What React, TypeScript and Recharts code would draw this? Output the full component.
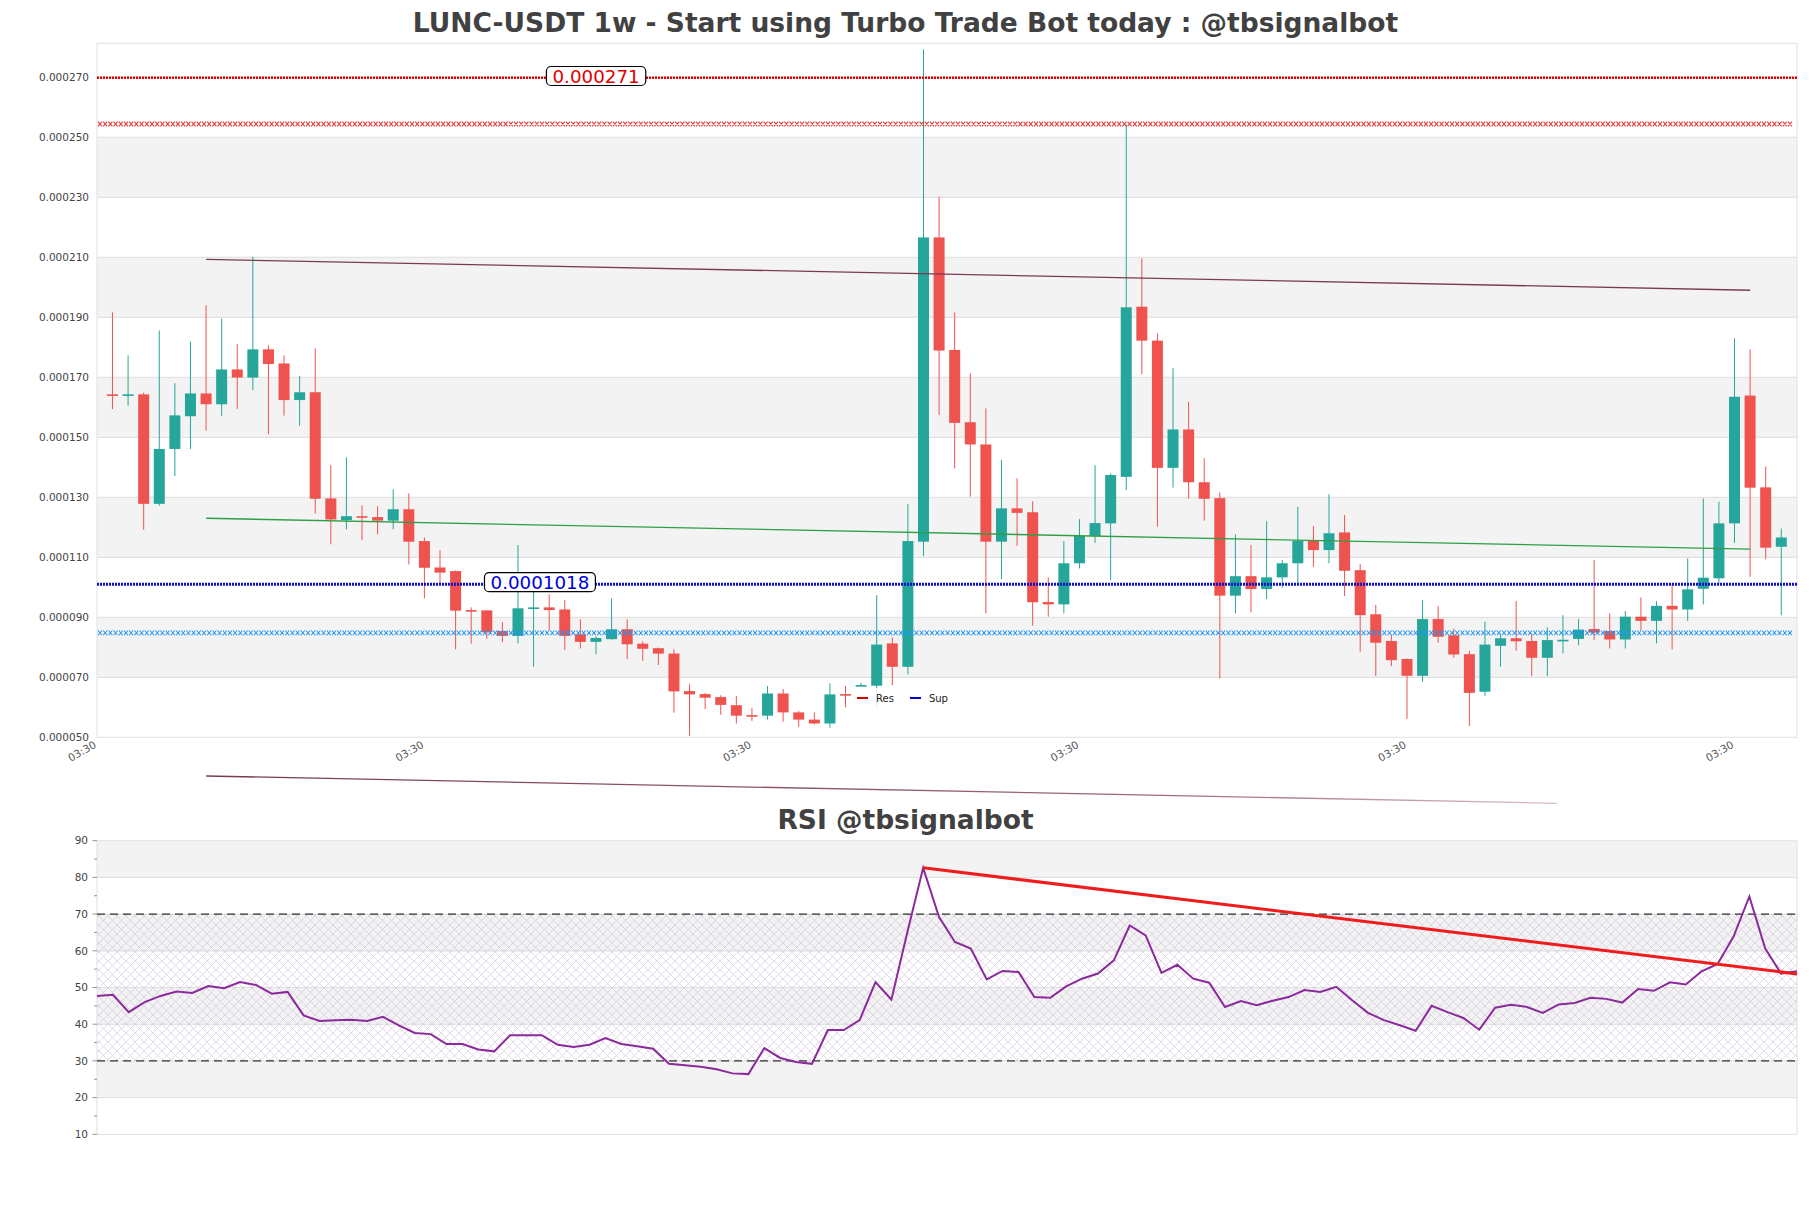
import {
  Bar,
  ComposedChart,
  Legend,
  Line,
  ReferenceArea,
  ReferenceDot,
  ReferenceLine,
  XAxis,
  YAxis,
} from 'recharts'

const FONT = '"DejaVu Sans", sans-serif'
const UP = '#26a69a'
const DOWN = '#ef5350'
const BAND = '#f3f3f3'
const GRID = '#e0e0e0'

// weekly candles, prices in 1e-6 USDT (164.3 -> 0.0001643)
const OPEN = [
  164.3, 164.0, 164.3, 127.8, 146.1, 157.0, 164.6, 161.0, 172.6, 169.9,
  179.3, 174.6, 162.4, 165.0, 129.6, 122.4, 123.7, 123.4, 122.2, 126.0,
  115.4, 106.6, 105.4, 92.4, 92.3, 85.4, 83.8, 93.0, 93.3, 92.6,
  84.3, 81.8, 82.7, 86.0, 81.2, 79.7, 77.9, 65.4, 64.4, 63.4,
  60.7, 57.4, 57.2, 64.6, 58.3, 55.9, 54.6, 64.4, 67.1, 67.2,
  81.3, 73.5, 115.2, 216.6, 179.1, 155.0, 147.6, 115.2, 126.3, 125.0,
  95.1, 94.3, 108.0, 117.1, 121.3, 136.8, 193.5, 182.2, 139.8, 152.6,
  135.0, 129.7, 97.2, 103.7, 99.4, 103.3, 108.0, 115.5, 112.4, 118.3,
  105.7, 91.0, 82.1, 76.1, 70.5, 89.4, 84.0, 77.7, 65.2, 80.5,
  83.0, 82.1, 76.5, 82.2, 82.8, 86.1, 85.4, 82.6, 90.2, 88.8,
  93.8, 92.6, 99.5, 103.0, 121.3, 163.9, 133.3, 113.5,
]
const HIGH = [
  191.6, 177.3, 164.9, 185.6, 168.0, 181.9, 194.0, 189.6, 181.0, 210.2,
  180.7, 177.3, 170.4, 179.6, 140.7, 143.3, 127.3, 127.0, 132.6, 131.3,
  116.6, 112.3, 105.6, 93.3, 92.3, 88.4, 114.1, 98.5, 97.7, 95.7,
  89.4, 83.7, 96.3, 89.3, 82.0, 79.9, 79.3, 67.7, 64.8, 64.0,
  63.7, 59.7, 67.1, 66.1, 58.8, 58.3, 68.0, 67.1, 68.2, 97.4,
  83.3, 127.7, 279.3, 230.2, 191.6, 171.3, 159.6, 142.4, 136.3, 128.7,
  103.3, 115.4, 122.7, 140.7, 138.0, 254.3, 209.6, 184.6, 173.0, 161.8,
  143.0, 131.6, 117.6, 114.1, 122.0, 109.1, 126.8, 120.4, 131.0, 124.1,
  107.7, 94.1, 84.1, 76.3, 95.7, 93.7, 86.2, 78.8, 88.5, 84.6,
  95.4, 84.6, 86.6, 90.7, 89.4, 109.1, 91.3, 92.1, 96.6, 95.4,
  101.0, 109.6, 129.6, 128.5, 183.0, 179.3, 140.2, 119.6,
]
const LOW = [
  159.4, 160.5, 119.2, 127.2, 137.1, 146.1, 152.2, 157.0, 159.4, 165.7,
  151.0, 157.2, 153.8, 124.6, 114.3, 119.3, 115.7, 117.6, 119.3, 107.6,
  96.3, 101.3, 79.3, 81.2, 82.8, 81.7, 81.3, 73.5, 85.7, 79.1,
  79.6, 77.7, 82.5, 76.1, 75.5, 74.1, 58.2, 50.5, 59.4, 57.5,
  54.6, 55.5, 55.9, 55.2, 53.5, 54.3, 53.2, 60.0, 66.9, 59.8,
  67.4, 71.0, 110.4, 157.4, 139.6, 130.2, 91.3, 102.7, 113.8, 87.2,
  90.2, 91.3, 106.3, 114.8, 102.4, 132.4, 171.0, 120.2, 133.2, 129.5,
  122.2, 69.6, 91.3, 91.6, 96.1, 99.8, 101.3, 106.8, 108.0, 97.1,
  78.5, 70.4, 73.7, 56.1, 68.5, 81.5, 76.5, 53.8, 63.8, 73.5,
  78.8, 70.4, 70.4, 78.0, 80.7, 82.4, 79.6, 79.6, 85.7, 81.3,
  79.3, 88.8, 94.3, 101.3, 114.8, 103.5, 109.3, 90.7,
]
const CLOSE = [
  164.0, 164.3, 127.8, 146.1, 157.3, 164.6, 161.0, 172.6, 169.9, 179.3,
  174.4, 162.4, 165.0, 129.5, 122.6, 123.7, 123.2, 122.2, 126.0, 115.2,
  106.5, 104.9, 92.2, 92.2, 85.0, 83.8, 93.0, 93.3, 92.4, 83.8,
  81.8, 83.1, 86.0, 81.0, 79.5, 77.9, 65.3, 64.3, 63.2, 60.8,
  57.2, 57.2, 64.6, 58.3, 55.9, 54.6, 64.3, 64.2, 67.4, 80.9,
  73.5, 115.4, 216.6, 178.9, 154.8, 147.6, 115.2, 126.3, 124.8, 95.0,
  94.3, 108.0, 117.1, 121.4, 137.4, 193.3, 182.2, 139.8, 152.6, 135.0,
  129.5, 97.2, 103.7, 99.4, 103.3, 108.0, 115.5, 112.4, 118.0, 105.5,
  90.7, 81.5, 75.7, 70.5, 89.4, 83.5, 77.6, 64.8, 80.9, 83.0,
  82.0, 76.5, 82.4, 82.5, 85.9, 84.9, 82.6, 90.2, 88.8, 93.8,
  92.6, 99.3, 103.2, 121.3, 163.5, 133.2, 113.2, 116.6,
]

const RSI = [
  47.7, 48.0, 43.3, 46.0, 47.7, 48.9, 48.5, 50.4, 49.8, 51.5,
  50.7, 48.3, 48.8, 42.4, 40.9, 41.1, 41.2, 40.9, 42.0, 39.7,
  37.6, 37.3, 34.6, 34.6, 33.1, 32.6, 37.0, 37.0, 37.0, 34.4,
  33.8, 34.4, 36.2, 34.6, 34.0, 33.3, 29.2, 28.8, 28.4, 27.7,
  26.6, 26.4, 33.5, 30.8, 29.7, 29.2, 38.4, 38.4, 41.1, 51.5,
  46.7, 65.0, 82.6, 69.2, 62.4, 60.6, 52.2, 54.5, 54.2, 47.4,
  47.2, 50.3, 52.4, 53.8, 57.4, 66.9, 64.2, 54.0, 56.2, 52.4,
  51.3, 44.7, 46.3, 45.2, 46.4, 47.4, 49.3, 48.8, 50.2, 46.5,
  43.1, 41.1, 39.7, 38.2, 45.0, 43.3, 41.7, 38.5, 44.5, 45.3,
  44.7, 43.1, 45.4, 45.8, 47.2, 46.9, 45.9, 49.6, 49.1, 51.4,
  50.8, 54.4, 56.4, 63.8, 74.8, 60.6, 53.8, 54.4,
]

const X_EDGES = [-1, 108] // visible x range of the price panel
const X_TICKS = [-1, 20, 41, 62, 83, 104]
const X_TICK_LABELS = ['03:30', '03:30', '03:30', '03:30', '03:30', '03:30']
const Y_DOMAIN = [50, 281.3]
const Y_TICKS = [50, 70, 90, 110, 130, 150, 170, 190, 210, 230, 250, 270]
const Y_SHADED = [70, 110, 150, 190, 230] // lower edge of the grey stripes

const RSI_DOMAIN = [10, 90]
const RSI_TICKS = [10, 15, 20, 25, 30, 35, 40, 45, 50, 55, 60, 65, 70, 75, 80, 85, 90]
const RSI_EDGES = [10, 20, 30, 40, 50, 60, 70, 80, 90]
const RSI_SHADED = [20, 40, 60, 80]
const RSI_LEVELS = [70, 30]
const RSI_TREND = [
  { x: 52, y: 82.6 },
  { x: 107, y: 53.7 },
]

// support / resistance levels
const RES_LINE = 269.8
const RES_ZONE = 254.4
const SUP_LINE = 101.0
const SUP_ZONE = 84.8
const TAGS = [
  { text: '0.000271', value: 270.4, at: 31, color: '#e00000' },
  { text: '0.0001018', value: 101.7, at: 27.4, color: '#0000dd' },
]
const TRENDS = [
  { from: { x: 6, y: 209.3 }, to: { x: 105, y: 199.0 }, color: '#7a3a50' },
  { from: { x: 6, y: 123.0 }, to: { x: 105, y: 112.7 }, color: '#2f9e44' },
]
const LOWER_CHANNEL = [
  { x: 6, y: 37.1 },
  { x: 92.6, y: 28.0 },
]
const LEGEND_ITEMS = [
  { name: 'Res', color: '#d00000' },
  { name: 'Sup', color: '#0000cc' },
]

const candles = OPEN.map((o, i) => ({ i, o, h: HIGH[i], l: LOW[i], c: CLOSE[i] }))
const rsiRows = RSI.map((rsi, i) => ({ i, rsi }))

const bandEdges = [Y_DOMAIN[0], ...Y_TICKS.slice(1), Y_DOMAIN[1]]

function Candle(props: any) {
  const { x, y, width, height, payload } = props
  const { o, h, l, c } = payload
  const k = h > l ? height / (h - l) : 0
  const yOf = (v: number) => y + (h - v) * k
  const color = c >= o ? UP : DOWN
  const mid = x + width / 2
  const top = yOf(Math.max(o, c))
  const bodyH = Math.max(yOf(Math.min(o, c)) - top, 1.6)
  return (
    <g>
      <line x1={mid} x2={mid} y1={y} y2={y + height} stroke={color} strokeWidth={1} />
      <rect x={x} y={top} width={width} height={bodyH} fill={color} />
    </g>
  )
}

// a level drawn as a row of small x marks
function XMarkLine(props: any) {
  const { x1, x2, y1, stroke } = props
  let d = ''
  for (let x = x1 + 3; x < x2 - 2; x += 5.2) {
    d += `M${x - 2},${y1 - 2.4}L${x + 2},${y1 + 2.4}M${x - 2},${y1 + 2.4}L${x + 2},${y1 - 2.4}`
  }
  return <path d={d} stroke={stroke} strokeWidth={1.05} fill="none" />
}

function Tag({ cx, cy, text, color }: { cx: number; cy: number; text: string; color: string }) {
  const em = [...text].reduce((s, ch) => s + (ch === '.' ? 0.318 : 0.636), 0)
  const w = em * 18.3 + 12
  return (
    <g>
      <rect x={cx - w / 2} y={cy - 9.5} width={w} height={19} rx={4.5} fill="#fff" stroke="#000" strokeWidth={1.2} />
      <text x={cx} y={cy} dy="0.36em" textAnchor="middle" fill={color} fontSize={18.3} fontFamily={FONT}>
        {text}
      </text>
    </g>
  )
}

function TimeTick(props: any) {
  const { x, y, payload } = props
  const label = X_TICK_LABELS[X_TICKS.indexOf(payload.value)] ?? ''
  const ty = y + 1.5
  return (
    <text
      x={x}
      y={ty}
      textAnchor="end"
      transform={`rotate(-30 ${x} ${ty})`}
      fontSize={10.5}
      fill="#555"
      fontFamily={FONT}
    >
      {label}
    </text>
  )
}

function RsiTick(props: any) {
  const { x, y, payload } = props
  const major = payload.value % 10 === 0
  return (
    <g>
      <line x1={x - (major ? 4.5 : 3)} x2={x} y1={y} y2={y} stroke="#777" strokeWidth={0.8} />
      {major && (
        <text x={x - 9} y={y} dy="0.36em" textAnchor="end" fontSize={10.5} fill="#444" fontFamily={FONT}>
          {payload.value}
        </text>
      )}
    </g>
  )
}

function LegendBox() {
  return (
    <div
      style={{
        display: 'flex',
        alignItems: 'center',
        height: 20,
        padding: '0 6px',
        background: 'rgba(255,255,255,0.85)',
        fontFamily: FONT,
        fontSize: 10,
        color: '#222',
      }}
    >
      {LEGEND_ITEMS.map((it) => (
        <span key={it.name} style={{ display: 'flex', alignItems: 'center', marginRight: 16 }}>
          <span style={{ width: 11, height: 2, background: it.color, marginRight: 8 }} />
          {it.name}
        </span>
      ))}
    </div>
  )
}

const titleStyle = (top: number): React.CSSProperties => ({
  position: 'absolute',
  left: '50%',
  top,
  transform: 'translateX(-50%)',
  whiteSpace: 'nowrap',
  fontFamily: FONT,
  fontWeight: 'bold',
  fontSize: 26.5,
  lineHeight: 1,
  color: '#414141',
})

export default function App() {
  return (
    <div style={{ position: 'absolute', left: 0, top: 0, width: 1811, height: 1208, background: '#fff', overflow: 'hidden' }}>
      <div style={{ position: 'absolute', left: 0, top: 0 }}>
        <ComposedChart
          width={1811}
          height={830}
          data={candles}
          margin={{ top: 43.3, right: 14, bottom: 52.7, left: 0 }}
          barCategoryGap="14%"
        >
          <defs>
            <linearGradient id="fadeMaroon" x1="0" y1="0" x2="1" y2="0">
              <stop offset="0" stopColor="#7a3a50" />
              <stop offset="0.7" stopColor="#9c6878" />
              <stop offset="1" stopColor="#d9bcc5" />
            </linearGradient>
          </defs>
          <XAxis xAxisId="c" dataKey="i" type="category" hide height={0} padding={{ left: 7.8, right: 7.8 }} />
          <XAxis
            xAxisId="t"
            dataKey="i"
            type="number"
            domain={['dataMin', 'dataMax']}
            padding={{ left: 15.6, right: 15.6 }}
            ticks={X_TICKS}
            interval={0}
            axisLine={false}
            tickLine={false}
            height={40}
            tick={(p: any) => <TimeTick {...p} />}
          />
          <YAxis
            yAxisId="p"
            domain={Y_DOMAIN}
            ticks={Y_TICKS}
            interval={0}
            allowDataOverflow
            width={97}
            axisLine={false}
            tickLine={false}
            tick={{ fontSize: 10.5, fill: '#444', fontFamily: FONT }}
            tickFormatter={(v: number) => (v / 1e6).toFixed(6)}
          />
          {bandEdges.slice(0, -1).map((lo, k) => (
            <ReferenceArea
              key={lo}
              xAxisId="t"
              yAxisId="p"
              x1={X_EDGES[0]}
              x2={X_EDGES[1]}
              y1={lo}
              y2={bandEdges[k + 1]}
              ifOverflow="visible"
              fill={Y_SHADED.includes(lo) ? BAND : '#fff'}
              fillOpacity={1}
              stroke={GRID}
              strokeWidth={1}
            />
          ))}
          <Bar
            xAxisId="c"
            yAxisId="p"
            dataKey={(d: any) => [d.l, d.h]}
            shape={(p: any) => <Candle {...p} />}
            isAnimationActive={false}
          />
          {TRENDS.map((t) => (
            <ReferenceLine
              key={t.color}
              xAxisId="t"
              yAxisId="p"
              segment={[t.from, t.to]}
              stroke={t.color}
              strokeWidth={1.3}
            />
          ))}
          <ReferenceLine
            xAxisId="t"
            yAxisId="p"
            segment={LOWER_CHANNEL}
            ifOverflow="visible"
            stroke="url(#fadeMaroon)"
            strokeWidth={1.3}
          />
          <ReferenceLine xAxisId="t" yAxisId="p" y={RES_LINE} stroke="#e00000" strokeWidth={2.4} strokeDasharray="2 1" />
          <ReferenceLine xAxisId="t" yAxisId="p" y={RES_ZONE} stroke="#e53935" shape={(p: any) => <XMarkLine {...p} />} />
          <ReferenceLine xAxisId="t" yAxisId="p" y={SUP_LINE} stroke="#1010c8" strokeWidth={3} strokeDasharray="2 1" />
          <ReferenceLine xAxisId="t" yAxisId="p" y={SUP_ZONE} stroke="#2196f3" shape={(p: any) => <XMarkLine {...p} />} />
          {TAGS.map((t) => (
            <ReferenceDot
              key={t.text}
              xAxisId="t"
              yAxisId="p"
              x={t.at}
              y={t.value}
              r={0}
              shape={(p: any) => <Tag cx={p.cx} cy={p.cy} text={t.text} color={t.color} />}
            />
          ))}
          <Legend
            layout="horizontal"
            verticalAlign="middle"
            align="center"
            wrapperStyle={{ left: 851, top: 688, width: 'auto' }}
            content={() => <LegendBox />}
          />
        </ComposedChart>
      </div>

      <div style={titleStyle(10)}>LUNC-USDT 1w - Start using Turbo Trade Bot today : @tbsignalbot</div>

      <div style={{ position: 'absolute', left: 0, top: 790 }}>
        <ComposedChart width={1811} height={418} data={rsiRows} margin={{ top: 50.7, right: 14, bottom: 73.7, left: 0 }}>
          <defs>
            <pattern id="rsiHatch" width="9" height="9" patternUnits="userSpaceOnUse">
              <path d="M0,0L9,9M9,0L0,9" stroke="#cfc0da" strokeWidth="0.6" />
            </pattern>
          </defs>
          <XAxis dataKey="i" type="number" domain={[0, 107]} hide />
          <YAxis
            domain={RSI_DOMAIN}
            ticks={RSI_TICKS}
            interval={0}
            allowDataOverflow
            width={97}
            axisLine={false}
            tickLine={false}
            tickSize={0}
            tickMargin={0}
            tick={(p: any) => <RsiTick {...p} />}
          />
          {RSI_EDGES.slice(0, -1).map((lo, k) => (
            <ReferenceArea
              key={lo}
              y1={lo}
              y2={RSI_EDGES[k + 1]}
              fill={RSI_SHADED.includes(lo) ? BAND : '#fff'}
              fillOpacity={1}
              stroke={GRID}
              strokeWidth={1}
            />
          ))}
          <ReferenceArea y1={RSI_LEVELS[1]} y2={RSI_LEVELS[0]} fill="url(#rsiHatch)" fillOpacity={1} />
          {RSI_LEVELS.map((v) => (
            <ReferenceLine key={v} y={v} stroke="#333" strokeWidth={1.2} strokeDasharray="8 5" />
          ))}
          <Line dataKey="rsi" type="linear" stroke="#8b2a9b" strokeWidth={2} dot={false} isAnimationActive={false} />
          <ReferenceLine segment={RSI_TREND} stroke="#f01c1c" strokeWidth={3} />
        </ComposedChart>
      </div>

      <div style={titleStyle(806.6)}>RSI @tbsignalbot</div>
    </div>
  )
}
